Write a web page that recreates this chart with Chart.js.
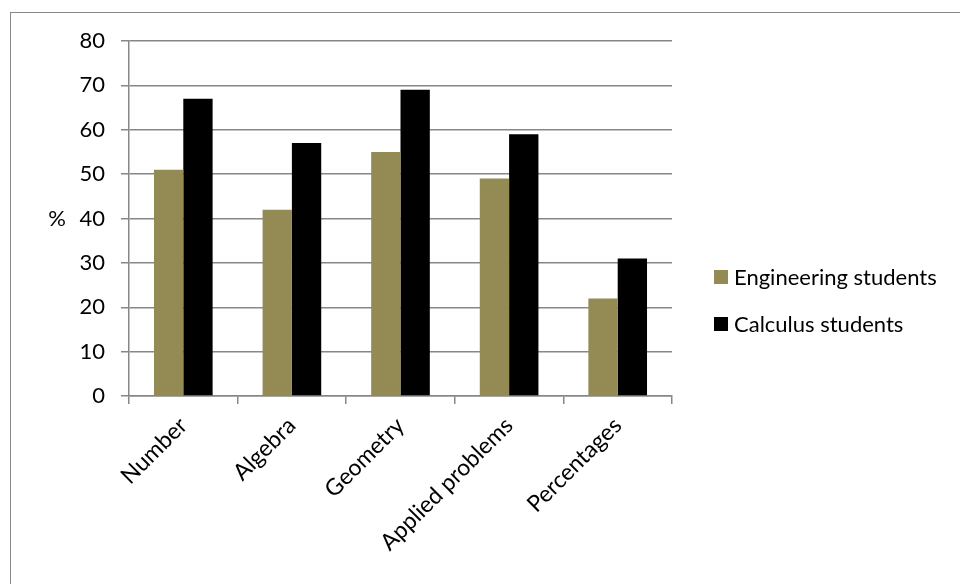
<!DOCTYPE html>
<html>
<head>
<meta charset="utf-8">
<script src="https://cdn.jsdelivr.net/npm/chart.js@4.4.1/dist/chart.umd.min.js"></script>
<style>
  body { margin: 0; background: #fff; overflow: hidden; }
  #frame { position: absolute; left: 10px; top: 12px; width: 1000px; height: 640px; border: 1px solid #898989; }
  #wrap { position: absolute; left: 0; top: 0; width: 960px; height: 584px; }
</style>
</head>
<body>
<div id="frame"></div>
<div id="wrap"><canvas id="grafic"></canvas></div>
<script>
const categories = ['Number', 'Algebra', 'Geometry', 'Applied problems', 'Percentages'];
const engineering = [51, 42, 55, 49, 22];
const calculus = [67, 57, 69, 59, 31];
const seriesNames = ['Engineering students', 'Calculus students'];
const yTicks = [0, 10, 20, 30, 40, 50, 60, 70, 80];

const FONT = 'Lato';
const FSIZE = 22;
const gridGray = '#878787';

// "%" axis label, drawn flat like in the original
const percentLabel = {
    id: 'percentLabel',
    afterDraw(chart) {
        const ctx = chart.ctx;
        const y = chart.scales.y;
        ctx.save();
        ctx.font = FSIZE + 'px ' + FONT;
        ctx.fillStyle = '#000';
        ctx.textAlign = 'center';
        ctx.textBaseline = 'middle';
        ctx.fillText('%', 57, y.getPixelForValue(40));
        ctx.restore();
    }
};

// legend on the right side
const sideLegend = {
    id: 'sideLegend',
    afterDraw(chart) {
        const ctx = chart.ctx;
        ctx.save();
        ctx.font = FSIZE + 'px ' + FONT;
        ctx.textBaseline = 'middle';
        chart.data.datasets.forEach((ds, i) => {
            const y = 277 + i * 47;
            ctx.fillStyle = ds.backgroundColor;
            ctx.fillRect(714, y - 7, 14, 14);
            ctx.fillStyle = '#000';
            ctx.fillText(ds.label, 734, y + 1);
        });
        ctx.restore();
    }
};

function create_grafic() {
    const ctx = document.getElementById('grafic');
    const data = {
        labels: categories,
        datasets: [{
            label: seriesNames[0],
            data: engineering,
            backgroundColor: '#948a54',
            borderWidth: 0
        }, {
            label: seriesNames[1],
            data: calculus,
            backgroundColor: '#000000',
            borderWidth: 0
        }]
    };
    const config = {
        type: 'bar',
        data: data,
        plugins: [percentLabel, sideLegend],
        options: {
            responsive: true,
            maintainAspectRatio: false,
            animation: false,
            layout: {padding: {left: 0, right: 288, top: 41, bottom: 0}},
            datasets: {bar: {categoryPercentage: 0.54, barPercentage: 1}},
            plugins: {legend: {display: false}, tooltip: {enabled: false}},
            scales: {
                x: {
                    offset: true,
                    grid: {offset: true, drawOnChartArea: false, color: gridGray, lineWidth: 1.5, tickLength: 8},
                    border: {color: gridGray, width: 1.5},
                    ticks: {
                        autoSkip: false, maxRotation: 45, minRotation: 45, padding: 8,
                        color: '#000', font: {family: FONT, size: 23}
                    },
                    afterFit: (s) => { s.height = 584 - 396; }
                },
                y: {
                    min: 0, max: 80,
                    afterBuildTicks: (s) => { s.ticks = yTicks.map(v => ({value: v})); },
                    grid: {color: gridGray, lineWidth: 1.5, tickLength: 8},
                    border: {color: gridGray, width: 1.5},
                    ticks: {padding: 16, color: '#000', font: {family: FONT, size: FSIZE}},
                    afterFit: (s) => { s.width = 129; }
                }
            }
        }
    };
    return new Chart(ctx, config);
}

create_grafic();
</script>
</body>
</html>
